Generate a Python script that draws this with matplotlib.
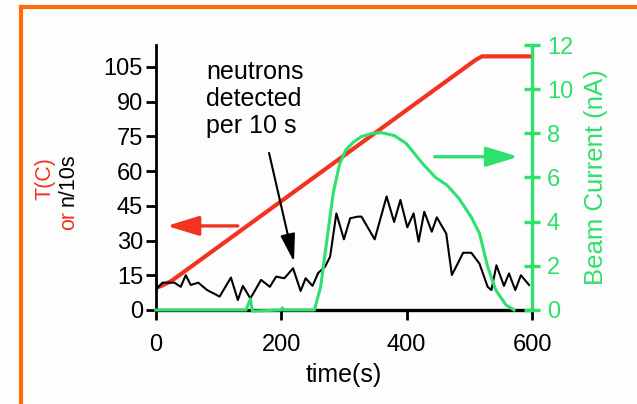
import matplotlib
matplotlib.use("Agg")
import matplotlib.pyplot as plt
from matplotlib.lines import Line2D

plt.rcParams['font.family'] = ['Liberation Sans', 'DejaVu Sans']

RED = '#f2331f'
GREEN = '#2ee06c'
ORANGE = '#ff6c0c'

# temperature ramp (C)
temp_t = [0, 10, 25, 510, 520, 600]
temp_c = [9.5, 10.5, 12.5, 108.0, 109.5, 109.5]

# neutrons detected per 10 s
neut_t = [0, 11, 30, 40, 48, 56, 68, 82, 102, 120, 131, 139, 151, 168, 182, 192,
          205, 219, 231, 239, 250, 259, 270, 278, 288, 300, 310, 322, 328, 349,
          368, 380, 390, 401, 411, 419, 428, 440, 448, 463, 472, 490, 503, 516,
          529, 535, 543, 555, 563, 573, 582, 595]
neut_n = [8.6, 11.8, 11.8, 10, 15, 10.8, 11.8, 8.6, 5.8, 14, 4.3, 10.4, 5, 13, 10,
          14.4, 13.7, 18, 8.2, 13.7, 10.4, 16, 18.7, 23, 41.7, 30.5, 39.6, 40.3,
          40.3, 30.5, 49, 38, 47.5, 35.7, 41.7, 29.5, 42.4, 33.8, 40, 33, 15.1,
          24.7, 24.7, 20, 10, 8.6, 19.3, 10.4, 15.8, 8.6, 15, 10.8]

# beam current (nA)
beam_t = [0, 144, 151, 154, 200, 202, 204, 253, 263, 273, 283, 293, 303, 315, 328,
          345, 360, 380, 399, 425, 446, 464, 483, 503, 516, 529, 542, 558, 571]
beam_i = [0, 0, 0.5, -0.05, 0, 0.1, 0, 0, 1.06, 3.2, 5.3, 6.6, 7.25, 7.6, 7.85,
          8.0, 8.03, 7.9, 7.55, 6.64, 6.0, 5.66, 5.06, 4.2, 3.47, 1.96, 0.9, 0.23, 0]

x_ticks = [0, 200, 400, 600]
left_ticks = [0, 15, 30, 45, 60, 75, 90, 105]
right_ticks = [0, 2, 4, 6, 8, 10, 12]

fig = plt.figure(figsize=(6.37, 4.04), dpi=100)
fig.patch.set_facecolor('#fdfdfd')
ax = fig.add_axes([0.2443, 0.2327, 0.5912, 0.6559])
ax.set_facecolor('none')
ax2 = ax.twinx()

ax.plot(temp_t, temp_c, color=RED, lw=3.0, solid_capstyle='butt')
ax.plot(neut_t, neut_n, color='black', lw=1.5)
ax2.plot(beam_t, beam_i, color=GREEN, lw=2.2, clip_on=False)

ax.set_xlim(0, 600)
ax.set_ylim(0, 114.4)
ax2.set_ylim(0, 12)
ax.set_xticks(x_ticks)
ax.set_yticks(left_ticks)
ax2.set_yticks(right_ticks)

for s in ['top', 'right']:
    ax.spines[s].set_visible(False)
for s in ['top', 'left', 'bottom']:
    ax2.spines[s].set_visible(False)
ax.spines['left'].set_linewidth(2.0)
ax.spines['bottom'].set_linewidth(2.4)
ax2.spines['right'].set_linewidth(2.4)
ax2.spines['right'].set_color(GREEN)

ax.tick_params(axis='y', direction='out', length=7, width=2.0, pad=2, labelsize=17)
ax.tick_params(axis='x', direction='out', length=7, width=2.0, pad=10, labelsize=17)
ax2.tick_params(axis='y', direction='inout', length=11, width=2.4, pad=5,
                labelsize=17, colors=GREEN)

ax.set_xlabel('time(s)', fontsize=18, labelpad=5)
ax2.set_ylabel('Beam Current (nA)', fontsize=18.5, color=GREEN, labelpad=8)

# left axis label in two colours: "T(C)" / "or n/10s"
fig.text(0.071, 0.559, 'T(C)', rotation=90, color=RED, fontsize=15.5,
         ha='center', va='center')
or_txt = fig.text(0.107, 0.4307, 'or', rotation=90, color=RED, fontsize=15.5,
                  ha='center', va='bottom')
fig.text(0.107, 0.4307 + 24 / 404, 'n/10s', rotation=90, color='black',
         fontsize=15.5, ha='center', va='bottom')

ax.text(80, 108, 'neutrons\ndetected\nper 10 s', fontsize=18, ha='left', va='top',
        linespacing=1.15)
ax.annotate('', xy=(220.5, 20.8), xytext=(180.7, 67.8),
            arrowprops=dict(arrowstyle='-|>,head_length=1.7,head_width=0.45',
                            color='black', lw=1.5, shrinkA=0, shrinkB=0,
                            mutation_scale=10))
ax.annotate('', xy=(18, 36.3), xytext=(131, 36.3),
            arrowprops=dict(arrowstyle='-|>,head_length=1.95,head_width=0.6',
                            color=RED, lw=2.4, shrinkA=0, shrinkB=0,
                            mutation_scale=10))
ax2.annotate('', xy=(577.8, 6.94), xytext=(444.6, 6.94),
             arrowprops=dict(arrowstyle='-|>,head_length=1.95,head_width=0.6',
                             color=GREEN, lw=2.4, shrinkA=0, shrinkB=0,
                             mutation_scale=10))

# orange frame
fig.add_artist(Line2D([0.033, 1.0], [0.9827, 0.9827], transform=fig.transFigure,
                      color=ORANGE, lw=3.0))
fig.add_artist(Line2D([0.033, 0.033], [0.0, 0.9827], transform=fig.transFigure,
                      color=ORANGE, lw=3.0, solid_capstyle='projecting'))

fig.savefig('out.png', dpi=100, facecolor=fig.get_facecolor())
